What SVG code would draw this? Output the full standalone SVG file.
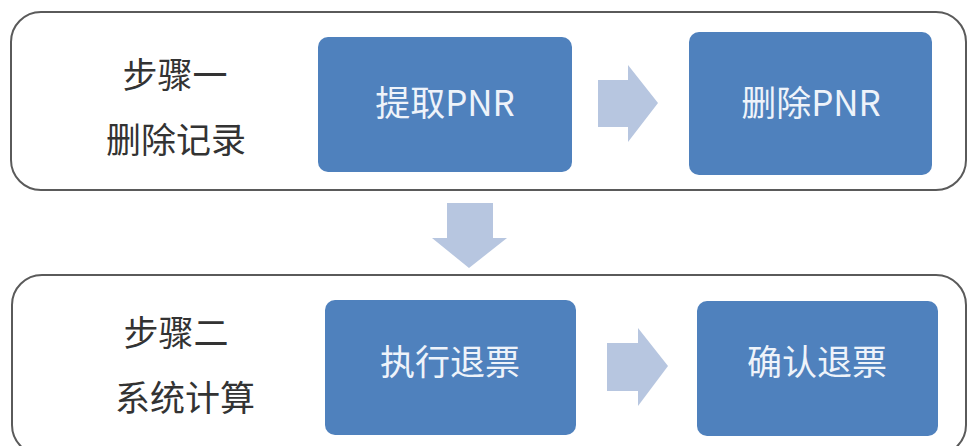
<svg xmlns="http://www.w3.org/2000/svg" width="970" height="446" viewBox="0 0 970 446">
<style>
.panel{fill:#ffffff;stroke:#5a5a5a;stroke-width:2}
.box{fill:#4f81bd}
.arrow{fill:#b7c6e0}
.lbl{font-family:"Liberation Serif","Noto Sans CJK SC",serif;font-size:35px;fill:#333333;text-anchor:middle}
.btxt{font-family:"Noto Sans CJK SC","Liberation Sans",sans-serif;font-size:35px;fill:#eef3fa;text-anchor:middle}
</style>
<rect width="970" height="446" fill="#ffffff"/>
<g id="panel1">
<rect class="panel" x="11" y="12" width="955" height="178" rx="30" ry="30"/>
<text class="lbl" x="175" y="88">步骤一</text>
<text class="lbl" x="176" y="153">删除记录</text>
</g>
<g id="panel2">
<rect class="panel" x="12" y="275" width="954" height="180" rx="30" ry="30"/>
<text class="lbl" x="176" y="346">步骤二</text>
<text class="lbl" x="185" y="411">系统计算</text>
</g>
<g id="node-extract">
<rect class="box" x="318" y="37" width="254" height="135" rx="10" ry="10"/>
<text class="btxt" x="445" y="116">提取PNR</text>
</g>
<g id="node-delete">
<rect class="box" x="689" y="32" width="243" height="143" rx="10" ry="10"/>
<text class="btxt" x="811" y="116">删除PNR</text>
</g>
<g id="node-execute">
<rect class="box" x="325" y="300" width="251" height="135" rx="10" ry="10"/>
<text class="btxt" x="450" y="375">执行退票</text>
</g>
<g id="node-confirm">
<rect class="box" x="697" y="301" width="241" height="135" rx="10" ry="10"/>
<text class="btxt" x="817" y="375">确认退票</text>
</g>
<g id="connectors">
<polygon class="arrow" points="598,80 628,80 628,65 658,103 628,142 628,127 598,127"/>
<polygon class="arrow" points="447,203 493,203 493,238 507,238 469,268 432,238 447,238"/>
<polygon class="arrow" points="607,343 638,343 638,328 668,366 638,406 638,391 607,391"/>
</g>
</svg>
